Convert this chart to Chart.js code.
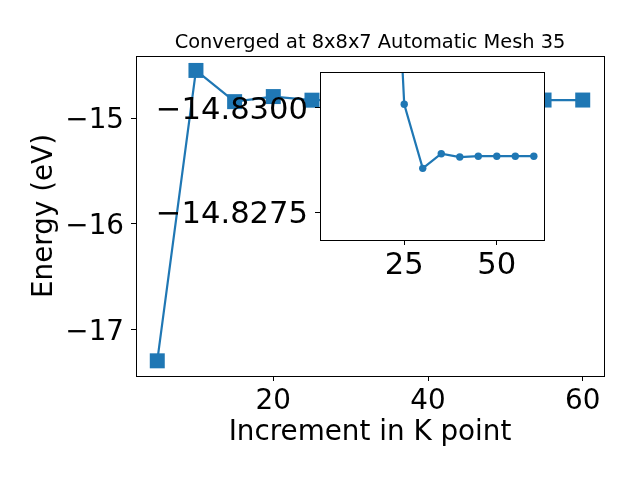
<!DOCTYPE html>
<html>
<head>
<meta charset="utf-8">
<script src="https://cdn.jsdelivr.net/npm/chart.js@4"></script>
<style>
html, body { margin: 0; padding: 0; background: #fff; }
#wrap { position: relative; width: 640px; height: 480px; }
#chart { position: absolute; left: 0; top: 0; }
#inset { position: absolute; left: 140px; top: 62px; }
</style>
</head>
<body>
<div id="wrap">
<canvas id="chart" width="640" height="480"></canvas>
<canvas id="inset" width="420" height="220"></canvas>
</div>
<script>
// K point convergence, main plot
const kPoints = [5, 10, 15, 20, 25, 30, 35, 40, 45, 50, 55, 60];
const energy = [-17.294, -14.549, -14.844, -14.796, -14.8301, -14.8286, -14.8289, -14.8288, -14.8288, -14.8288, -14.8288, -14.8288];

// zoomed inset
const insetK = [20, 25, 30, 35, 40, 45, 50, 55, 60];
const insetEnergy = [-14.8390, -14.83008, -14.82855, -14.82890, -14.82882, -14.82884, -14.82884, -14.82884, -14.82884];

const mainXTicks = [20, 40, 60];
const mainYTicks = [-17, -16, -15];
const insetXTicks = [25, 50];
const insetYTicks = [-14.8300, -14.8275];

const titleText = "Converged at 8x8x7 Automatic Mesh 35";

const blue = "#1f77b4";
const family = '"DejaVu Sans", sans-serif';

function minus(s){
    return String(s).replace("-", "\u2212");
}

// axes box + white face
const frame = {
    id: "frame",
    beforeDraw(chart){
        const a = chart.chartArea;
        const ctx = chart.ctx;
        ctx.save();
        ctx.fillStyle = "#fff";
        ctx.fillRect(a.left, a.top, a.right - a.left, a.bottom - a.top);
        ctx.restore();
    },
    afterDraw(chart){
        const a = chart.chartArea;
        const ctx = chart.ctx;
        ctx.save();
        ctx.strokeStyle = "#000";
        ctx.lineWidth = 1;
        ctx.strokeRect(Math.round(a.left) + 0.5, Math.round(a.top) + 0.5,
            Math.round(a.right - a.left), Math.round(a.bottom - a.top));
        ctx.restore();
    }
};

// title centred over the axes box, like matplotlib
const axesTitle = {
    id: "axesTitle",
    afterDraw(chart){
        const a = chart.chartArea;
        const ctx = chart.ctx;
        ctx.save();
        ctx.fillStyle = "#000";
        ctx.font = "19.4px " + family;
        ctx.textAlign = "center";
        ctx.textBaseline = "alphabetic";
        ctx.fillText(titleText, (a.left + a.right) / 2, 48);
        ctx.restore();
    }
};

function axis(opts){
    return Object.assign({
        type: "linear",
        border: { display: false },
        grid: { drawOnChartArea: false, drawTicks: true, tickLength: 5, color: "#000" }
    }, opts);
}

function noPad(s){
    s.paddingTop = 0;
    s.paddingBottom = 0;
    s.paddingLeft = 0;
    s.paddingRight = 0;
}

new Chart(document.getElementById("chart"), {
    type: "line",
    data: {
        datasets: [{
            data: kPoints.map((k, i) => ({ x: k, y: energy[i] })),
            borderColor: blue,
            borderWidth: 2.2,
            backgroundColor: blue,
            pointStyle: "rect",
            pointRadius: 10.6,
            pointBorderWidth: 0,
            pointBackgroundColor: blue,
            tension: 0
        }]
    },
    options: {
        responsive: false,
        animation: false,
        layout: { padding: { left: 0, right: 36, top: 56, bottom: 0 } },
        plugins: {
            legend: { display: false },
            tooltip: { enabled: false },
            title: { display: false }
        },
        scales: {
            x: axis({
                min: 2.25,
                max: 62.75,
                afterBuildTicks: s => { s.ticks = mainXTicks.map(v => ({ value: v })); },
                afterFit: s => { s.height = 104; noPad(s); },
                ticks: {
                    color: "#000", autoSkip: false, maxRotation: 0, padding: 4,
                    font: { family: family, size: 27.8 },
                    callback: v => minus(v)
                },
                title: {
                    display: true, text: "Increment in K point", color: "#000",
                    font: { family: family, size: 27.8 },
                    padding: { top: 0, bottom: 31 }
                }
            }),
            y: axis({
                min: -17.4375,
                max: -14.4125,
                afterBuildTicks: s => { s.ticks = mainYTicks.map(v => ({ value: v })); },
                afterFit: s => { s.width = 136; noPad(s); },
                ticks: {
                    color: "#000", autoSkip: false, padding: 7, labelOffset: 3,
                    font: { family: family, size: 27.8 },
                    callback: v => minus(v)
                },
                title: {
                    display: true, text: "Energy (eV)", color: "#000",
                    font: { family: family, size: 27.8 },
                    padding: { top: 28, bottom: 0 }
                }
            })
        }
    },
    plugins: [frame, axesTitle]
});

new Chart(document.getElementById("inset"), {
    type: "line",
    data: {
        datasets: [{
            data: insetK.map((k, i) => ({ x: k, y: insetEnergy[i] })),
            borderColor: blue,
            borderWidth: 2.2,
            backgroundColor: blue,
            pointStyle: "circle",
            pointRadius: 3.7,
            pointBorderWidth: 0,
            pointBackgroundColor: blue,
            tension: 0
        }]
    },
    options: {
        responsive: false,
        animation: false,
        layout: { padding: { left: 0, right: 16, top: 10, bottom: 0 } },
        plugins: {
            legend: { display: false },
            tooltip: { enabled: false }
        },
        scales: {
            x: axis({
                min: 2.25,
                max: 62.75,
                afterBuildTicks: s => { s.ticks = insetXTicks.map(v => ({ value: v })); },
                afterFit: s => { s.height = 42; noPad(s); },
                ticks: {
                    color: "#000", autoSkip: false, maxRotation: 0, padding: 3,
                    font: { family: family, size: 30.6 },
                    callback: v => minus(v)
                }
            }),
            y: axis({
                min: -14.83085,
                max: -14.82684,
                reverse: true,
                afterBuildTicks: s => { s.ticks = insetYTicks.map(v => ({ value: v })); },
                afterFit: s => { s.width = 180; noPad(s); },
                ticks: {
                    color: "#000", autoSkip: false, padding: 7, labelOffset: 3,
                    font: { family: family, size: 30.6 },
                    callback: v => minus(Number(v).toFixed(4))
                }
            })
        }
    },
    plugins: [frame]
});
</script>
</body>
</html>
